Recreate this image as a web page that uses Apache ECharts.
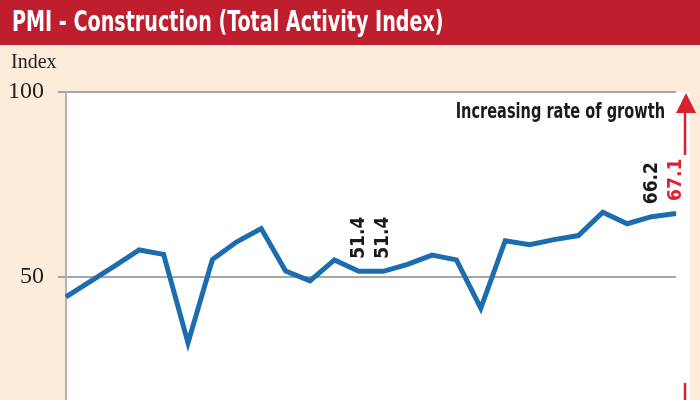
<!DOCTYPE html>
<html lang="en">
<head>
    <meta charset="UTF-8">
    <title>PMI - Construction</title>
    <script src="https://cdn.jsdelivr.net/npm/echarts@6/dist/echarts.min.js"></script>
    <style>
        html, body { margin: 0; padding: 0; }
        #chart { width: 700px; height: 400px; }
    </style>
</head>
<body>
<div id="chart"></div>

<script type="text/javascript">
    // monthly readings, oldest first (x labels are cut off in the original)
    var periods = ['1', '2', '3', '4', '5', '6', '7', '8', '9', '10', '11', '12', '13',
        '14', '15', '16', '17', '18', '19', '20', '21', '22', '23', '24', '25', '26'];
    var pmiValues = [44.5, 48.7, 52.9, 57.2, 56.0, 32.0, 54.6, 59.4, 63.0, 51.5, 48.8, 54.5, 51.4,
        51.4, 53.3, 55.8, 54.5, 41.4, 59.7, 58.6, 60.0, 61.1, 67.4, 64.3, 66.2, 67.1];
    var labelIndex = [12, 13, 24, 25];
    var labelColor = ['#1a1a1a', '#1a1a1a', '#1a1a1a', '#e0202f'];
    var yTicks = [0, 50, 100];

    var narrow = '"Liberation Sans Narrow", "DejaVu Sans Condensed", sans-serif';
    var serif = '"Liberation Serif", "DejaVu Serif", serif';

    var seriesData = pmiValues.map(function (v, i) {
        var k = labelIndex.indexOf(i);
        if (k < 0) return v;
        return {value: v, label: {show: true, color: labelColor[k]}};
    });

    var myChart = echarts.init(document.getElementById('chart'));
    var option = {
        backgroundColor: '#fcecd9',
        animation: false,
        grid: {left: 66, right: 24, top: 92, height: 369, outerBoundsMode: 'none', containLabel: false},
        xAxis: {
            type: 'category',
            data: periods,
            boundaryGap: false,
            axisLine: {show: false},
            axisTick: {show: false},
            axisLabel: {show: false}
        },
        yAxis: {
            type: 'value',
            min: yTicks[0],
            max: yTicks[yTicks.length - 1],
            interval: 50,
            axisLine: {show: true, lineStyle: {color: '#b3b3b3', width: 2}},
            axisTick: {show: true, length: 8, lineStyle: {color: '#a6a6a6', width: 2}},
            axisLabel: {
                margin: 22,
                color: '#222',
                fontFamily: serif,
                fontSize: 24
            },
            splitLine: {lineStyle: {color: '#a6a6a6', width: 2}}
        },
        graphic: [
            {type: 'rect', z: -10, shape: {x: 66, y: 92, width: 624, height: 320}, style: {fill: '#ffffff'}},
            {type: 'rect', z: 10, shape: {x: 0, y: 0, width: 700, height: 45}, style: {fill: '#be1e2d'}},
            {
                type: 'text', z: 11, x: 12, y: 24, scaleX: 0.76,
                style: {
                    text: 'PMI - Construction (Total Activity Index)',
                    fill: '#ffffff', fontFamily: narrow, fontWeight: 'bold', fontSize: 28,
                    verticalAlign: 'middle'
                }
            },
            {
                type: 'text', z: 11, x: 11, y: 63,
                style: {
                    text: 'Index', fill: '#222', fontFamily: serif, fontSize: 20,
                    verticalAlign: 'middle'
                }
            },
            {
                type: 'text', z: 11, x: 665, y: 113, scaleX: 0.77,
                style: {
                    text: 'Increasing rate of growth', fill: '#1a1a1a', fontFamily: narrow,
                    fontWeight: 'bold', fontSize: 21, align: 'right', verticalAlign: 'middle'
                }
            },
            {type: 'polygon', z: 11, shape: {points: [[686, 93], [676, 113], [696, 113]]}, style: {fill: '#d9202e'}},
            {type: 'line', z: 11, shape: {x1: 685, y1: 112, x2: 685, y2: 155}, style: {stroke: '#d9202e', lineWidth: 2.5}},
            {type: 'line', z: 11, shape: {x1: 685, y1: 383, x2: 685, y2: 400}, style: {stroke: '#d9202e', lineWidth: 2.5}}
        ],
        series: [
            {
                type: 'line',
                data: seriesData,
                symbol: 'circle',
                symbolSize: 1,
                itemStyle: {color: '#1c6cb0'},
                lineStyle: {color: '#1c6cb0', width: 5, join: 'miter'},
                label: {
                    show: false,
                    position: 'top',
                    distance: 12,
                    rotate: 90,
                    align: 'left',
                    verticalAlign: 'middle',
                    fontFamily: narrow,
                    fontWeight: 'bold',
                    fontSize: 19
                },
                labelLayout: {hideOverlap: false},
                z: 3
            }
        ]
    };

    myChart.setOption(option);
</script>
</body>
</html>
